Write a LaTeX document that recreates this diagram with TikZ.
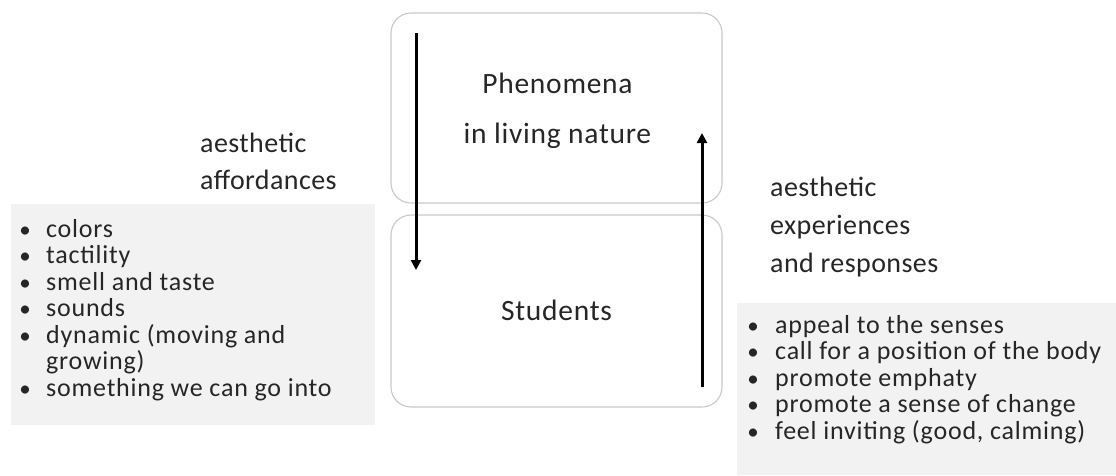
\documentclass[tikz,border=0pt]{standalone}
\usepackage{fontspec}
\setmainfont{Carlito}
\newfontfamily\itemfont[LetterSpace=3]{Carlito}
\newfontfamily\headfont[LetterSpace=1.5]{Carlito}
\newfontfamily\bigfont[LetterSpace=2.5]{Carlito}
\usetikzlibrary{arrows.meta}
\definecolor{txt}{HTML}{262626}
\definecolor{panel}{HTML}{F2F2F2}
\definecolor{frame}{HTML}{C8C8C8}
\tikzset{
  stage/.style={draw=frame, line width=1.1pt, rounded corners=20pt, inner sep=0pt},
  listbg/.style={fill=panel, draw=none, inner sep=0pt},
  big/.style={text=txt, font=\bigfont\fontsize{29.5}{36}\selectfont, inner sep=0pt},
  head/.style={text=txt, font=\headfont\fontsize{28}{34}\selectfont, inner sep=0pt, anchor=base west},
  item/.style={text=txt, font=\itemfont\fontsize{26}{30}\selectfont, inner sep=0pt, anchor=base west},
  dot/.style={text=txt, font=\fontsize{23}{30}\selectfont, inner sep=0pt, anchor=base},
  flow/.style={line width=3pt, -{Triangle[width=10pt,length=10pt]}}
}
\begin{document}
\begin{tikzpicture}[x=1pt,y=-1pt]
  \useasboundingbox (0,0) rectangle (1116,475);

  % the two stages
  \node[stage, minimum width=331pt, minimum height=190pt] (phen) at (556.5,108) {};
  \node[stage, minimum width=331pt, minimum height=192pt] (stud) at (556.5,311) {};
  \node[big, anchor=base] (phen1) at (557.5,93) {Phenomena};
  \node[big, anchor=base] (phen2) at (557.5,143) {in living nature};
  \node[big, anchor=base] (studt) at (556.5,320) {Students};

  % arrows between the stages
  \coordinate (dtop) at (416,33);
  \coordinate (dbot) at (416,270);
  \coordinate (ubot) at (702,387);
  \coordinate (utop) at (702,133);
  \draw[flow] (dtop) -- (dbot);
  \draw[flow] (ubot) -- (utop);

  % affordances
  \node[head] (ha1) at (200,152) {aesthetic};
  \node[head] (ha2) at (200,189) {affordances};
  \fill[listbg] (11,204) rectangle (375,425);
  \foreach \t [count=\i] in {colors, tactility, smell and taste, sounds, dynamic (moving and} {
    \node[dot] (lb\i) at (25,{237+26.5*(\i-1)}) {•};
    \node[item] (la\i) at (46,{237+26.5*(\i-1)}) {\t};
  }
  \node[item] (la6) at (46,369.5) {growing)};
  \node[dot] (lb7) at (25,396) {•};
  \node[item] (la7) at (46,396) {something we can go into};

  % experiences
  \node[head] (he1) at (770,196) {aesthetic};
  \node[head] (he2) at (770,234) {experiences};
  \node[head] (he3) at (770,272) {and responses};
  \fill[listbg] (737,303) rectangle (1116,475);
  \foreach \t [count=\i] in {appeal to the senses, call for a position of the body, promote emphaty, promote a sense of change, {feel inviting (good, calming)}} {
    \node[dot] (rb\i) at (753,{333+26.5*(\i-1)}) {•};
    \node[item] (ra\i) at (775,{333+26.5*(\i-1)}) {\t};
  }
\end{tikzpicture}
\end{document}
